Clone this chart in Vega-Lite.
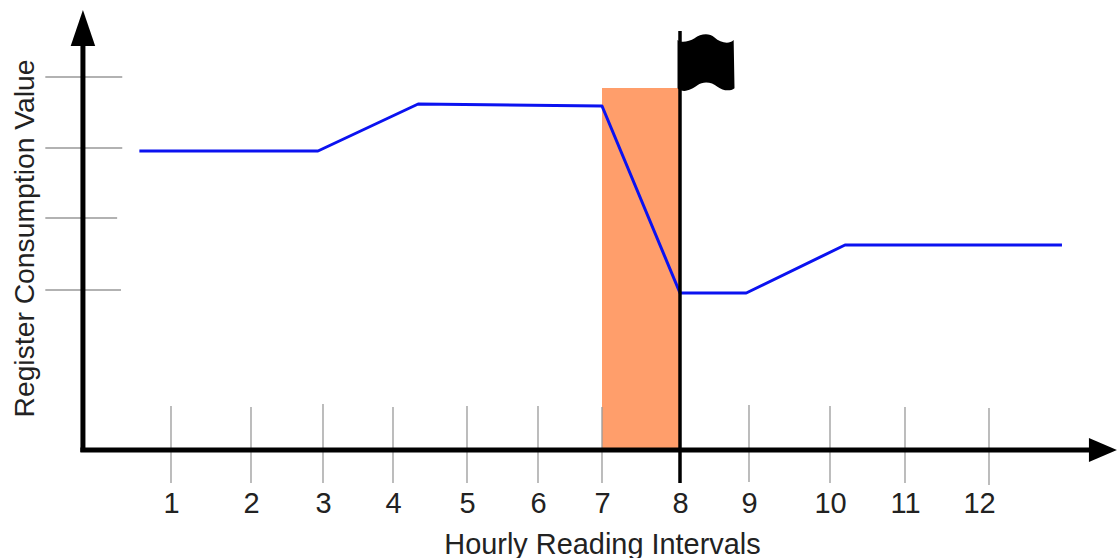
{
"$schema":"https://vega.github.io/schema/vega-lite/v6.json",
"width":1117,"height":558,"padding":0,"autosize":{"type":"none"},
"background":"white",
"view":{"stroke":null},
"config":{"font":"Liberation Sans"},
"encoding":{
"x":{"field":"hour","type":"quantitative","scale":{"domain":[-1,1,2,3,4,5,6,7,8,9,10,11,12,14],"range":[0,171,251,323,393,467,538,602,680,749,830,905,989,1117],"clamp":false,"nice":false,"zero":false},
"axis":{"values":[1,2,3,4,5,6,7,8,9,10,11,12],"format":"d","orient":"bottom","offset":-108,"domain":false,"ticks":false,"grid":false,"labelPadding":39,"labelFontSize":29,"labelColor":"#222222","labelFont":"Liberation Sans","labelFlush":false,"labelOverlap":false,"labelOffset":{"condition":{"test":"datum.value==12","value":-10},"value":0},"title":"Hourly Reading Intervals","titleFontSize":28.9,"titleFontWeight":"normal","titleFont":"Liberation Sans","titleColor":"#222222","titleX":602,"titleY":103,"titleBaseline":"alphabetic","titleAlign":"center"}},
"y":{"field":"value","type":"quantitative","scale":{"domain":[-108,450],"nice":false,"zero":false},
"axis":{"values":[],"orient":"left","domain":false,"ticks":false,"grid":false,"labels":false,"title":"Register Consumption Value","titleFontSize":28.3,"titleFontWeight":"normal","titleFont":"Liberation Sans","titleColor":"#222222","titleAngle":270,"titleX":33,"titleY":238,"titleBaseline":"alphabetic","titleAlign":"center"}}
},
"layer":[
{"data":{"values":[{"hour":7,"hourEnd":8,"value":0,"valueEnd":362}]},"mark":{"type":"rect","color":"#FF9E6B"},"encoding":{"x2":{"field":"hourEnd"},"y2":{"field":"valueEnd"}}},
{"data":{"values":[
{"hour":1,"value":44,"valueEnd":-33},{"hour":2,"value":43,"valueEnd":-33},{"hour":3,"value":46,"valueEnd":-33},{"hour":4,"value":43,"valueEnd":-33},{"hour":5,"value":44,"valueEnd":-33},{"hour":6,"value":44,"valueEnd":-33},{"hour":7,"value":43,"valueEnd":-33},{"hour":9,"value":45,"valueEnd":-32},{"hour":10,"value":44,"valueEnd":-33},{"hour":11,"value":43,"valueEnd":-33},{"hour":12,"value":42,"valueEnd":-35}]},
"mark":{"type":"rule","color":"#999999","strokeWidth":1.3},"encoding":{"y2":{"field":"valueEnd"}}},
{"data":{"values":[{"hour":-0.47,"hourEnd":0.43,"value":373},{"hour":-0.47,"hourEnd":0.43,"value":302},{"hour":-0.47,"hourEnd":0.37,"value":232},{"hour":-0.47,"hourEnd":0.415,"value":160}]},
"mark":{"type":"rule","color":"#999999","strokeWidth":1.3},"encoding":{"x2":{"field":"hourEnd"}}},
{"data":{"values":[{"hour":0.63,"value":299},{"hour":2.93,"value":299},{"hour":4.34,"value":346},{"hour":7,"value":344},{"hour":8,"value":157},{"hour":8.96,"value":157},{"hour":10.2,"value":205},{"hour":13.14,"value":205}]},
"mark":{"type":"line","color":"#0b12f0","strokeWidth":3,"strokeJoin":"round"},"encoding":{"order":{"field":"hour"}}},
{"data":{"values":[{"hour":-0.06,"hourEnd":13.58,"value":0}]},"mark":{"type":"rule","color":"black","strokeWidth":5},"encoding":{"x2":{"field":"hourEnd"}}},
{"data":{"values":[{"hour":-0.03,"value":-2,"valueEnd":410}]},"mark":{"type":"rule","color":"black","strokeWidth":5},"encoding":{"y2":{"field":"valueEnd"}}},
{"data":{"values":[{"hour":8,"value":-33,"valueEnd":419}]},"mark":{"type":"rule","color":"black","strokeWidth":3.5},"encoding":{"y2":{"field":"valueEnd"}}},
{"data":{"values":[{"hour":8.377,"value":387.5}]},"mark":{"type":"point","filled":true,"opacity":1,"color":"black","size":3249,"shape":"M-1,-.79 C-.9,-.68 -.6,-.72 -.4,-.85 C-.2,-1 .1,-1.05 .3,-.88 C.5,-.7 .8,-.62 .97,-.79 L1,.9 C.85,1.02 .6,1 .4,.85 C.2,.68 -.1,.65 -.3,.8 C-.5,.95 -.8,1.1 -1,.9Z"}},
{"data":{"values":[{"hour":-0.03,"value":422}]},"mark":{"type":"point","filled":true,"opacity":1,"color":"black","size":1296,"shape":"M0,-1 L.68,1 L-.68,1Z"}},
{"data":{"values":[{"hour":13.78,"value":0}]},"mark":{"type":"point","filled":true,"opacity":1,"color":"black","size":784,"shape":"M-1,-.86 L1,0 L-1,.86Z"}}
]
}
